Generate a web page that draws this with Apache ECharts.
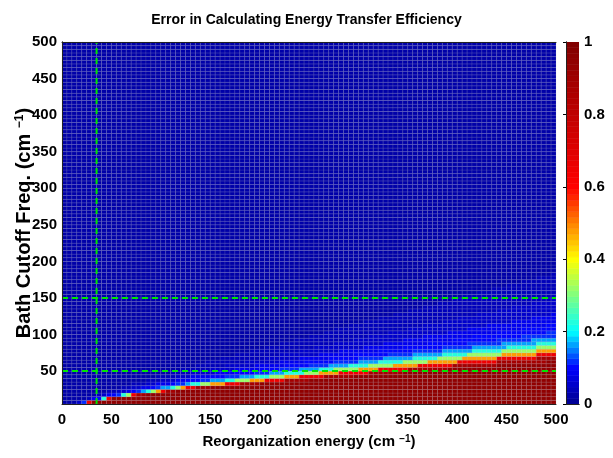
<!DOCTYPE html>
<html><head><meta charset="utf-8">
<script src="https://cdn.jsdelivr.net/npm/echarts@6/dist/echarts.min.js"></script>
<style>html,body{margin:0;padding:0;background:#fff}#c{width:613px;height:458px}</style>
</head><body><div id="c"></div>
<script>
// ---- data ----
const titleText = 'Error in Calculating Energy Transfer Efficiency';
const xTicks = [0, 50, 100, 150, 200, 250, 300, 350, 400, 450, 500];
const yTicks = [50, 100, 150, 200, 250, 300, 350, 400, 450, 500];
const cbTicks = [0, 0.2, 0.4, 0.6, 0.8, 1];
const xRange = [0, 500];
const yRange = [5, 500];
const cellSize = 5;          // grid step of the computed map (cm^-1)
const nCols = 100;
const nRows = 99;
// error levels present in the map (index = level)
const levels = [0.02, 0.045, 0.06, 0.08, 0.10, 0.12, 0.16, 0.22, 0.32, 0.47, 0.65, 0.88, 0.95];
// for each row (bottom -> top) the column indices at which the error steps up one level
const rowBreaks = [
  [3,3,4,4,4,5,5,5,5,5,6,6],
  [5,6,6,7,8,8,8,9,9,9,10,10],
  [7,8,9,10,11,12,12,13,14,14,15,17],
  [9,11,13,14,15,16,17,18,19,20,21,23],
  [12,14,16,18,19,20,22,23,24,25,27,30],
  [14,17,19,22,23,25,26,28,30,33,36,40],
  [17,20,23,25,28,30,33,35,38,41,45,50],
  [19,23,26,30,33,36,39,42,45,48,53,59],
  [22,26,31,35,39,42,45,49,52,56,62,69],
  [24,30,35,40,44,48,52,55,60,64,70,78],
  [27,33,39,45,50,54,58,62,67,72,79,88],
  [29,37,44,49,55,60,64,69,74,80,88,98],
  [32,41,48,54,60,65,71,76,81,88,96],
  [35,44,52,59,66,71,77,82,89,96],
  [38,48,56,64,71,77,83,89,96],
  [41,51,61,69,77,83,90,96],
  [44,55,65,74,82,89,96],
  [47,59,69,79,88,95],
  [50,62,73,83,93],
  [53,66,78,88,98],
  [55,70,82,93],
  [58,73,86,98],
  [61,77,91],
  [64,80,95],
  [67,84,99],
  [70,88],
  [73,91],
  [76,95],
  [79,99],
  [81],[84],[87],[90],[93],[96],[99]
];
const refX = [35];        // dashed green vertical line
const refY = [50, 150];   // dashed green horizontal lines
// colormap stops
const cmapPos = [0, 0.1, 0.2, 0.3, 0.4, 0.5, 0.6, 1.0];
const cmapRGB = [[0,0,143],[0,0,255],[0,255,255],[128,255,128],[255,255,0],[255,128,0],[255,0,0],[128,0,0]];
const nColors = 64;

// ---- helpers ----
function cmap(v) {
  v = Math.max(0, Math.min(1, v));
  const k = Math.min(nColors - 1, Math.floor(v * nColors));
  const u = (k + 0.5) / nColors;
  let s = 0;
  while (s < cmapPos.length - 2 && u > cmapPos[s + 1]) s++;
  const f = (u - cmapPos[s]) / (cmapPos[s + 1] - cmapPos[s]);
  const c = cmapRGB[s].map((a, i) => Math.round(a + (cmapRGB[s + 1][i] - a) * f));
  return 'rgb(' + c.join(',') + ')';
}
const cells = [];
for (let j = 0; j < nRows; j++) {
  const br = rowBreaks[j] || [];
  for (let i = 0; i < nCols; i++) {
    let n = 0;
    for (const b of br) if (b <= i) n++;
    const x0 = xRange[0] + i * cellSize, y0 = yRange[0] + j * cellSize;
    cells.push([x0, x0 + cellSize, y0, y0 + cellSize, levels[n]]);
  }
}
const cbCells = [];
for (let k = 0; k < nColors; k++) cbCells.push([0, 1, k / nColors, (k + 1) / nColors, (k + 0.5) / nColors]);

function rectItem(mesh) {
  return function (params, api) {
    const p0 = api.coord([api.value(0), api.value(3)]);
    const p1 = api.coord([api.value(1), api.value(2)]);
    const col = cmap(api.value(4));
    return {
      type: 'rect',
      shape: { x: p0[0], y: p0[1], width: p1[0] - p0[0], height: p1[1] - p0[1] },
      style: mesh ? { fill: col, stroke: 'rgba(170,170,190,0.25)', lineWidth: 0.6 }
                  : { fill: col, stroke: col, lineWidth: 0.6 }
    };
  };
}

const FF = 'Liberation Sans, Arial, Helvetica, sans-serif';
const lab = { fontFamily: FF, fontWeight: 'bold', fontSize: 15, color: '#000' };
function nameStyle(size, supSize) {
  return {
    fontFamily: FF, fontWeight: 'bold', fontSize: size, color: '#000',
    rich: { sup: { fontFamily: FF, fontWeight: 'bold', fontSize: supSize, color: '#000', verticalAlign: 'top', lineHeight: supSize } }
  };
}
const frame = { show: true, lineStyle: { color: '#222', width: 1 } };
const greenLine = { color: '#00e600', width: 2, type: [6, 4] };

const series = [
  { type: 'custom', xAxisIndex: 0, yAxisIndex: 0, data: cells, renderItem: rectItem(true),
    encode: { x: [0, 1], y: [2, 3] }, silent: true, clip: true, z: 2 },
  { type: 'custom', xAxisIndex: 2, yAxisIndex: 2, data: cbCells, renderItem: rectItem(false),
    encode: { x: [0, 1], y: [2, 3] }, silent: true, clip: true, z: 2 }
];
refX.forEach(x => series.push({ type: 'line', xAxisIndex: 0, yAxisIndex: 0, data: [[x, yRange[0]], [x, yRange[1]]],
  symbol: 'none', lineStyle: greenLine, silent: true, z: 4, animation: false }));
refY.forEach(y => series.push({ type: 'line', xAxisIndex: 0, yAxisIndex: 0, data: [[xRange[0], y], [xRange[1], y]],
  symbol: 'none', lineStyle: greenLine, silent: true, z: 4, animation: false }));

const chart = echarts.init(document.getElementById('c'), null, { renderer: 'canvas' });
chart.setOption({
  animation: false,
  backgroundColor: '#fff',
  title: { text: titleText, left: 'center', top: 8,
    textStyle: { fontFamily: FF, fontWeight: 'bold', fontSize: 14, color: '#000' } },
  grid: [
    { left: 62, top: 42, width: 494, height: 362, containLabel: false, outerBoundsMode: 'none' },
    { left: 566, top: 42, width: 13, height: 362, containLabel: false, outerBoundsMode: 'none' }
  ],
  xAxis: [
    { gridIndex: 0, type: 'value', min: xRange[0], max: xRange[1], interval: 50, position: 'bottom', z: 10,
      axisLine: frame, axisTick: { show: false }, splitLine: { show: false },
      axisLabel: Object.assign({ margin: 8, customValues: xTicks }, lab),
      name: 'Reorganization energy (cm {sup|\u22121})', nameLocation: 'middle', nameGap: 30, nameMoveOverlap: false,
      nameTextStyle: nameStyle(15, 10) },
    { gridIndex: 0, type: 'value', min: xRange[0], max: xRange[1], position: 'top', z: 10,
      axisLine: frame, axisTick: { show: false }, axisLabel: { show: false }, splitLine: { show: false } },
    { gridIndex: 1, type: 'value', min: 0, max: 1, position: 'bottom', z: 10,
      axisLine: frame, axisTick: { show: false }, axisLabel: { show: false }, splitLine: { show: false } },
    { gridIndex: 1, type: 'value', min: 0, max: 1, position: 'top', z: 10,
      axisLine: frame, axisTick: { show: false }, axisLabel: { show: false }, splitLine: { show: false } }
  ],
  yAxis: [
    { gridIndex: 0, type: 'value', min: yRange[0], max: yRange[1], position: 'left', z: 10,
      axisLine: frame, axisTick: { show: false }, splitLine: { show: false },
      axisLabel: Object.assign({ margin: 5, customValues: yTicks }, lab),
      name: 'Bath Cutoff Freq. (cm {sup|\u22121})', nameLocation: 'middle', nameRotate: 90, nameGap: 28, nameMoveOverlap: false,
      nameTextStyle: nameStyle(20, 12) },
    { gridIndex: 0, type: 'value', min: yRange[0], max: yRange[1], position: 'right', z: 10,
      axisLine: frame, axisTick: { show: false }, axisLabel: { show: false }, splitLine: { show: false } },
    { gridIndex: 1, type: 'value', min: 0, max: 1, interval: 0.2, position: 'right', z: 10,
      axisLine: frame, axisTick: { show: true, inside: true, length: 3, lineStyle: { color: '#000' } }, splitLine: { show: false },
      axisLabel: Object.assign({ margin: 5, customValues: cbTicks, formatter: v => String(parseFloat(v.toFixed(1))) }, lab) },
    { gridIndex: 1, type: 'value', min: 0, max: 1, interval: 0.2, position: 'left', z: 10,
      axisLine: frame, axisTick: { show: false }, axisLabel: { show: false }, splitLine: { show: false } }
  ],
  series: series
});
</script>
</body></html>
